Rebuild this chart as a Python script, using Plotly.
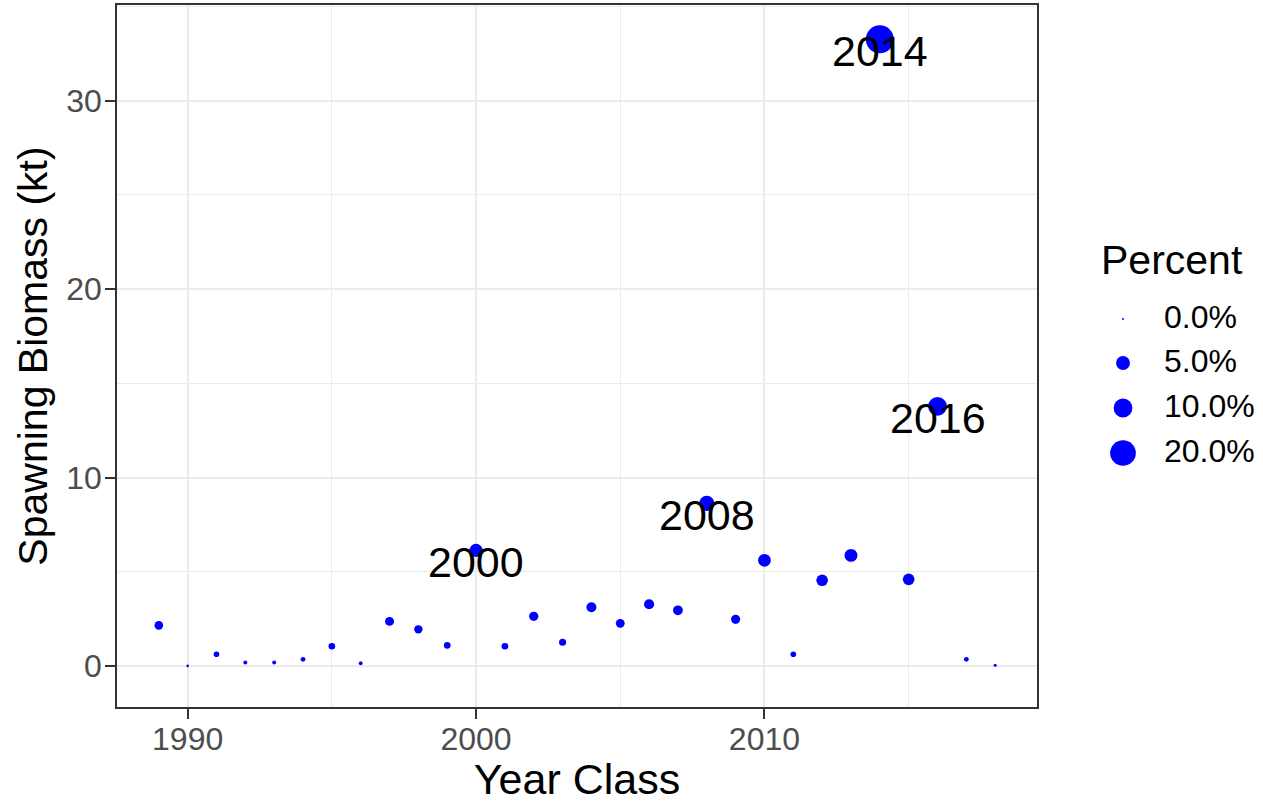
import numpy as np
import plotly.graph_objects as go

# ---------------- data ----------------
years = list(range(1989, 2019))
biomass = [2.17, 0.02, 0.64, 0.20, 0.20, 0.37, 1.06, 0.16, 2.38, 1.96,
           1.11, 6.15, 1.06, 2.65, 1.27, 3.13, 2.28, 3.29, 2.97, 8.64,
           2.49, 5.62, 0.64, 4.56, 5.88, 33.25, 4.61, 13.78, 0.37, 0.05]
percent = [1.57, 0.01, 0.46, 0.14, 0.14, 0.27, 0.77, 0.12, 1.72, 1.42,
           0.80, 4.46, 0.77, 1.92, 0.92, 2.27, 1.65, 2.38, 2.15, 6.26,
           1.80, 4.07, 0.46, 3.30, 4.26, 24.06, 3.34, 9.99, 0.27, 0.04]
label_years = [2000, 2008, 2014, 2016]
legend_pcts = [0, 5, 10, 20]
legend_labels = ["0.0%", "5.0%", "10.0%", "20.0%"]
x_ticks = [1990, 2000, 2010]
y_ticks = [0, 10, 20, 30]

FONT = "Liberation Sans"
BLUE = "#0000FF"


def size_scale(p):
    # area-style size scale (diameter grows with sqrt of percent)
    return 2 + 5.3 * np.sqrt(np.asarray(p, dtype=float))


W, H = 1263, 803
ML, MR, MT, MB = 117, 0, 5, 96
panel_right = 1037
main_frac = (panel_right - ML) / (W - ML - MR)

fig = go.Figure()

fig.add_trace(go.Scatter(
    x=years, y=biomass, mode="markers",
    marker=dict(size=size_scale(percent), color=BLUE, opacity=1,
                line=dict(width=0)),
    showlegend=False, xaxis="x", yaxis="y",
))

for yr in label_years:
    i = years.index(yr)
    fig.add_annotation(x=yr, y=biomass[i], text=str(yr), showarrow=False,
                       xref="x", yref="y", yshift=-12,
                       font=dict(family=FONT, size=43, color="black"))

# ---- size legend drawn on a helper axis (pixel coordinates) ----
leg_dot_x = 1123
leg_dot_y = [319, 363, 408, 453]
leg_txt_x = 1164
fig.add_trace(go.Scatter(
    x=[leg_dot_x] * len(legend_pcts), y=leg_dot_y, mode="markers",
    marker=dict(size=size_scale(legend_pcts), color=BLUE, opacity=1,
                line=dict(width=0)),
    showlegend=False, xaxis="x2", yaxis="y2", hoverinfo="skip",
))
fig.add_trace(go.Scatter(
    x=[leg_txt_x] * len(legend_labels), y=[y + 1 for y in leg_dot_y],
    mode="text", text=legend_labels, textposition="middle right",
    textfont=dict(family=FONT, size=32, color="black"),
    showlegend=False, xaxis="x2", yaxis="y2", hoverinfo="skip",
))
fig.add_annotation(x=1099, y=260, xref="x2", yref="y2", text="Percent",
                   showarrow=False, xanchor="left", yanchor="middle",
                   font=dict(family=FONT, size=41, color="black"))

axis_common = dict(
    showline=True, linecolor="#333333", linewidth=1.6, mirror=True,
    ticks="outside", ticklen=10, tickwidth=1.8, tickcolor="#333333",
    showgrid=True, gridcolor="#EBEBEB", gridwidth=1.6, zeroline=False,
    tickfont=dict(family=FONT, size=32, color="#4D4D4D"),
)

fig.update_layout(
    width=W, height=H, margin=dict(l=ML, r=MR, t=MT, b=MB),
    paper_bgcolor="white", plot_bgcolor="white",
    xaxis=dict(domain=[0, main_frac], range=[1987.55, 2019.45],
               tickvals=x_ticks, ticklabelstandoff=-7,
               minor=dict(dtick=5, tick0=1985, showgrid=True,
                          gridcolor="#EBEBEB", gridwidth=0.9, ticks=""),
               title=dict(text="Year Class", standoff=14,
                          font=dict(family=FONT, size=43, color="black")),
               **axis_common),
    yaxis=dict(domain=[0, 1], range=[-2.16, 35.07], tickvals=y_ticks,
               ticklabelstandoff=-3,
               minor=dict(dtick=5, tick0=0, showgrid=True,
                          gridcolor="#EBEBEB", gridwidth=0.9, ticks=""),
               title=dict(text="Spawning Biomass (kt)", standoff=6,
                          font=dict(family=FONT, size=41, color="black")),
               **axis_common),
    xaxis2=dict(domain=[main_frac, 1], range=[panel_right, W],
                visible=False, anchor="y2", fixedrange=True),
    yaxis2=dict(domain=[0, 1], range=[H - MB, MT], visible=False,
                anchor="x2", fixedrange=True),
)

fig.write_html("out.html", config={"displayModeBar": False},
               post_script="document.body.style.margin='0';"
                           "document.body.style.overflow='hidden';")
